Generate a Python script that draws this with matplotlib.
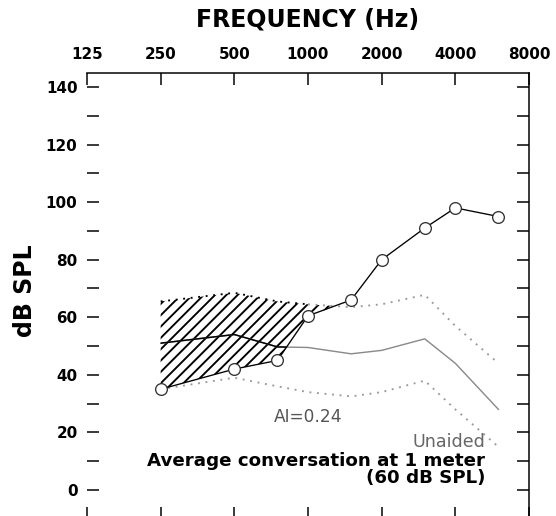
import numpy as np
import matplotlib
matplotlib.use("Agg")
import matplotlib.pyplot as plt
from matplotlib.ticker import NullLocator

# ---------------- Data ----------------
freq_ticks = [125, 250, 500, 1000, 2000, 4000, 8000]
freq_labels = ["125", "250", "500", "1000", "2000", "4000", "8000"]

freqs = np.array([250, 500, 750, 1000, 1500, 2000, 3000, 4000, 6000])
aided = np.array([35, 42, 45, 60.5, 66, 80, 91, 98, 95])          # circles
speech_mean = np.array([51, 54, 49.7, 49.5, 47.3, 48.5, 52.5, 44, 28])
speech_upper = np.array([65.5, 68.5, 65.5, 64.5, 63.5, 64.5, 67.8, 57, 44])
speech_lower = np.array([35, 39, 36, 34, 32.5, 34, 38, 28, 15])

y_major = list(range(0, 141, 20))
y_minor = list(range(10, 140, 20))

# ---------------- Figure ----------------
DPI = 136
W, H = 556, 516
plt.rcParams["hatch.linewidth"] = 1.0
fig = plt.figure(figsize=(W / DPI, H / DPI), dpi=DPI)
ax = fig.add_axes([87 / W, -2.75 / H, 442 / W, 446.15 / H])

ax.set_xscale("log", base=2)
ax.set_xlim(125, 8000)
ax.set_ylim(-10, 145)

# hatched region: speech above the aided thresholds
fill = ax.fill_between(freqs, aided, speech_upper, where=speech_upper >= aided,
                       interpolate=True, facecolor="none", edgecolor="black",
                       hatch="////", linewidth=0, zorder=1)

# unaided speech banana
dot = (0, (1, 3))
ax.plot(freqs, speech_mean, color="#8a8a8a", lw=0.75, zorder=2)
inside, = ax.plot(freqs, speech_mean, color="black", lw=0.8, zorder=2)
inside.set_clip_path(fill.get_paths()[0], ax.transData)

mask = speech_upper >= aided
last = np.where(mask)[0][-1]
ax.plot(freqs[:last + 1], speech_upper[:last + 1], color="black", lw=1.0,
        linestyle=dot, zorder=2)
ax.plot(freqs[last:], speech_upper[last:], color="#9a9a9a", lw=1.0,
        linestyle=dot, zorder=2)
ax.plot(freqs, speech_lower, color="#9a9a9a", lw=1.0, linestyle=dot, zorder=2)

# aided thresholds
ax.plot(freqs, aided, color="black", lw=0.7, marker="o", markersize=6.2,
        markerfacecolor="white", markeredgecolor="#333333",
        markeredgewidth=0.7, zorder=3)

# ---------------- Axes styling ----------------
ax.set_xticks(freq_ticks)
ax.set_xticklabels(freq_labels)
ax.xaxis.set_minor_locator(NullLocator())
ax.tick_params(axis="x", which="both", top=True, bottom=True, labeltop=True,
               labelbottom=False, direction="in", length=6.35, width=0.8,
               pad=5.8, labelsize=8, colors="black")
ax.set_yticks(y_major)
ax.set_yticks(y_minor, minor=True)
ax.tick_params(axis="y", which="both", left=True, right=True, labelleft=True,
               direction="in", length=6.35, width=0.8, pad=5.0, labelsize=8)
for lab in ax.get_xticklabels() + ax.get_yticklabels():
    lab.set_fontweight("bold")

ax.spines["left"].set_visible(False)
for s in ["top", "right", "bottom"]:
    ax.spines[s].set_linewidth(0.8)

# ---------------- Text ----------------
fig.text(308 / W, 1 - 20 / H, "FREQUENCY (Hz)", ha="center", va="center",
         fontsize=12.5, fontweight="bold")
fig.text(25 / W, 1 - 291 / H, "dB SPL", rotation=90, ha="center",
         va="center", fontsize=12.5, fontweight="bold")

ax.text(1000, 25.4, "AI=0.24", ha="center", va="center", fontsize=9,
        color="#555555")
ax.text(5300, 16.7, "Unaided", ha="right", va="center", fontsize=9.3,
        color="#666666")
ax.text(5300, 10, "Average conversation at 1 meter", ha="right",
        va="center", fontsize=9.7, fontweight="bold")
ax.text(5300, 4.2, "(60 dB SPL)", ha="right", va="center", fontsize=9.7,
        fontweight="bold")

fig.savefig("out.png", dpi=DPI)
